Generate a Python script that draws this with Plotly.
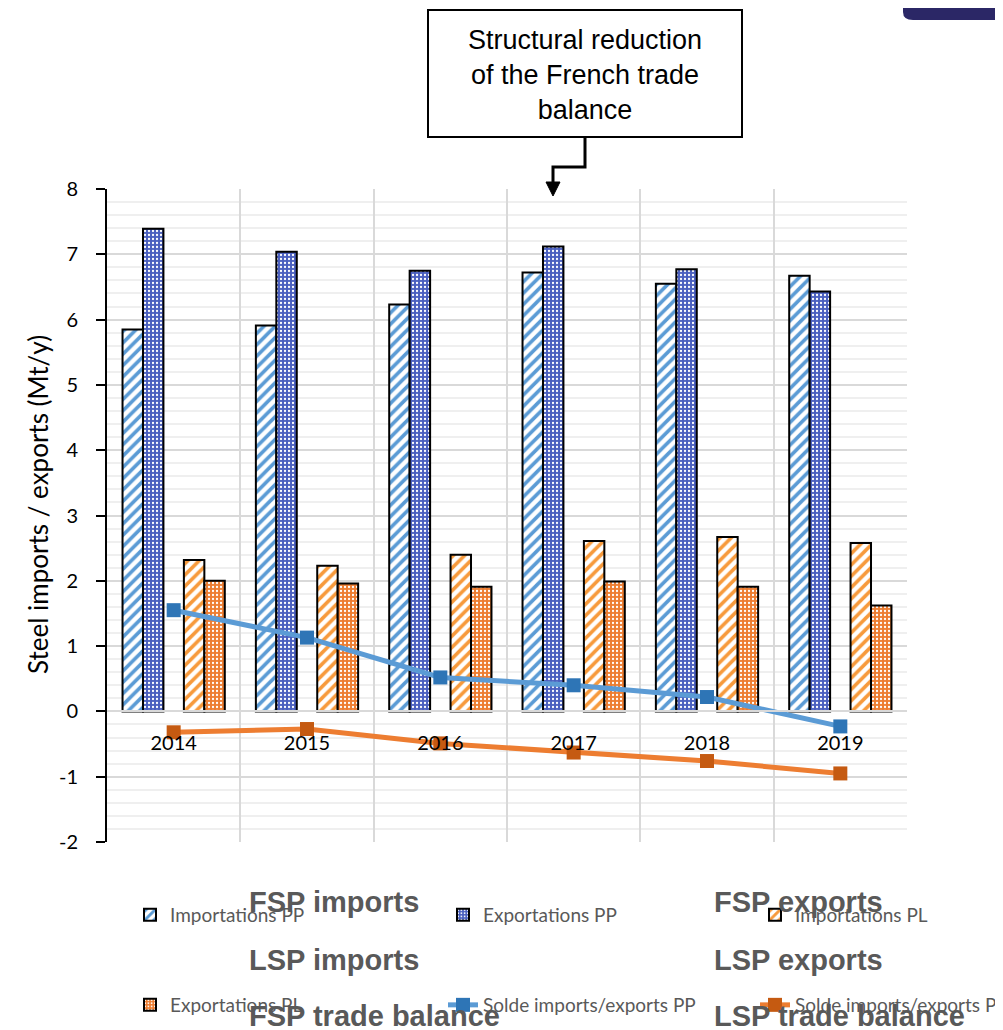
import plotly.graph_objects as go

years = ["2014", "2015", "2016", "2017", "2018", "2019"]
fsp_imports = [5.85, 5.91, 6.23, 6.72, 6.55, 6.67]
fsp_exports = [7.39, 7.04, 6.75, 7.12, 6.77, 6.43]
lsp_imports = [2.32, 2.23, 2.40, 2.61, 2.67, 2.58]
lsp_exports = [2.00, 1.96, 1.91, 1.99, 1.91, 1.62]
fsp_balance = [1.55, 1.13, 0.52, 0.40, 0.22, -0.23]
lsp_balance = [-0.32, -0.27, -0.49, -0.63, -0.76, -0.95]

y_tick_vals = [-2, -1, 0, 1, 2, 3, 4, 5, 6, 7, 8]
y_tick_text = ["-2", "-1", "0", "1", "2", "3", "4", "5", "6", "7", "8"]

legend_fr = ["Importations PP", "Exportations PP", "Importations PL",
             "Exportations PL", "Solde imports/exports PP", "Solde imports/exports PL"]
labels_en = ["FSP imports", "FSP exports", "LSP imports", "LSP exports",
             "FSP trade balance", "LSP trade balance"]
note_text = "Structural reduction<br>of the French trade<br>balance"
y_title = "Steel imports / exports (Mt/y)"

# page offset (body margin) is 8 px; coordinates below are screenshot pixels
OFF = 8
W, H = 1003 - OFF, 1030 - OFF
L, R, T, B = 107, 907, 189, 842


def px(xp):
    return (xp - L) / (R - L)


def py(yp):
    return (B - yp) / (B - T)


BLUE_L = "#5B9BD5"
BLUE_D = "#4A5FBF"
ORANGE_L = "#F79A3C"
ORANGE_D = "#ED7D31"

fig = go.Figure()

fig.add_trace(go.Bar(
    x=years, y=fsp_imports, name=legend_fr[0], legend="legend",
    marker=dict(color="white", line=dict(color="black", width=2),
                pattern=dict(shape="/", fgcolor=BLUE_L, bgcolor="white",
                             size=8, solidity=0.45, fillmode="replace"))))
fig.add_trace(go.Bar(
    x=years, y=fsp_exports, name=legend_fr[1], legend="legend2",
    marker=dict(color=BLUE_D, line=dict(color="black", width=2),
                pattern=dict(shape=".", fgcolor="white", bgcolor=BLUE_D,
                             size=4, solidity=0.25, fillmode="replace"))))
fig.add_trace(go.Bar(
    x=years, y=[0] * len(years), showlegend=False, hoverinfo="skip",
    marker=dict(color="rgba(0,0,0,0)", line=dict(width=0))))
fig.add_trace(go.Bar(
    x=years, y=lsp_imports, name=legend_fr[2], legend="legend3",
    marker=dict(color="white", line=dict(color="black", width=2),
                pattern=dict(shape="/", fgcolor=ORANGE_L, bgcolor="white",
                             size=8, solidity=0.45, fillmode="replace"))))
fig.add_trace(go.Bar(
    x=years, y=lsp_exports, name=legend_fr[3], legend="legend4",
    marker=dict(color=ORANGE_D, line=dict(color="black", width=2),
                pattern=dict(shape=".", fgcolor="white", bgcolor=ORANGE_D,
                             size=4, solidity=0.25, fillmode="replace"))))
fig.add_trace(go.Scatter(
    x=years, y=fsp_balance, name=legend_fr[4], legend="legend5",
    mode="lines+markers", line=dict(color=BLUE_L, width=5),
    marker=dict(symbol="square", size=14, color="#2E75B6")))
fig.add_trace(go.Scatter(
    x=years, y=lsp_balance, name=legend_fr[5], legend="legend6",
    mode="lines+markers", line=dict(color=ORANGE_D, width=5),
    marker=dict(symbol="square", size=14, color="#C55A11")))

shapes = []
shapes.append(dict(type="rect", xref="paper", yref="paper",
                   x0=px(428), x1=px(742), y0=py(137), y1=py(10),
                   line=dict(color="black", width=2), fillcolor="white", layer="above"))
shapes.append(dict(type="path", xref="paper", yref="paper",
                   path=f"M {px(585)},{py(137)} L {px(585)},{py(167)} L {px(553)},{py(167)} L {px(553)},{py(184)}",
                   line=dict(color="black", width=3)))
shapes.append(dict(type="path", xref="paper", yref="paper",
                   path=f"M {px(546)},{py(182)} L {px(560)},{py(182)} L {px(553)},{py(196)} Z",
                   line=dict(color="black", width=1), fillcolor="black"))
shapes.append(dict(type="path", xref="paper", yref="paper",
                   path=(f"M {px(903)},{py(0)} L {px(903)},{py(12)} "
                         f"Q {px(903)},{py(20)} {px(913)},{py(20)} "
                         f"L {px(1003)},{py(20)} L {px(1003)},{py(0)} Z"),
                   line=dict(width=0), fillcolor="#2B2766"))

annotations = []
annotations.append(dict(xref="paper", yref="paper", x=px(585), y=py(75),
                        text=note_text, showarrow=False,
                        font=dict(family="Arial, Liberation Sans", size=27, color="black"),
                        align="center", xanchor="center", yanchor="middle"))
annotations.append(dict(xref="paper", yref="paper", x=px(38), y=py(505),
                        text=y_title, showarrow=False, textangle=-90,
                        font=dict(family="Lato, Liberation Sans", size=26, color="black"),
                        xanchor="center", yanchor="middle"))

en_pos = [(248, 902), (713, 902), (248, 960), (713, 960), (248, 1016), (713, 1016)]
for txt, (xx, yy) in zip(labels_en, en_pos):
    annotations.append(dict(xref="paper", yref="paper", x=px(xx), y=py(yy),
                            text=f"<b>{txt}</b>", showarrow=False,
                            font=dict(family="Arial, Liberation Sans", size=29, color="#595959"),
                            xanchor="left", yanchor="middle", bgcolor="rgba(255,255,255,0)",
                            borderpad=0))

legend_common = dict(orientation="h", xanchor="left", yanchor="top",
                     font=dict(family="Lato, Liberation Sans", size=19, color="#595959"),
                     bgcolor="rgba(0,0,0,0)", itemwidth=30)
leg_pos = [(130, 896), (443, 896), (755, 896), (130, 986), (443, 986), (755, 986)]
legends = {}
for i, (xx, yy) in enumerate(leg_pos):
    key = "legend" if i == 0 else f"legend{i + 1}"
    legends[key] = dict(x=px(xx), y=py(yy), **legend_common)

fig.update_layout(
    width=W, height=H,
    margin=dict(l=L - OFF, r=W - (R - OFF), t=T - OFF, b=H - (B - OFF), autoexpand=False),
    paper_bgcolor="white", plot_bgcolor="white",
    barmode="group", bargap=0.233, bargroupgap=0,
    showlegend=True,
    shapes=shapes, annotations=annotations,
    xaxis=dict(type="category", categoryorder="array", categoryarray=years,
               anchor="free", position=0.2, showline=True, linecolor="#D9D9D9",
               linewidth=2, showgrid=True, gridcolor="#D9D9D9", gridwidth=2,
               tickson="boundaries", ticks="", ticklabelstandoff=14,
               tickfont=dict(family="Lato, Liberation Sans", size=20, color="black"),
               zeroline=False),
    yaxis=dict(range=[-2, 8], tickvals=y_tick_vals, ticktext=y_tick_text,
               showline=True, linecolor="black",
               linewidth=2, ticks="outside", ticklen=9, tickwidth=2, tickcolor="black",
               showgrid=True, gridcolor="#D9D9D9", gridwidth=2, zeroline=False,
               ticklabelstandoff=14,
               tickfont=dict(family="Lato, Liberation Sans", size=20, color="black"),
               minor=dict(dtick=0.2, showgrid=True, gridcolor="#EFEFEF", gridwidth=1.5)),
    **legends,
)

fig.write_html("out.html")
